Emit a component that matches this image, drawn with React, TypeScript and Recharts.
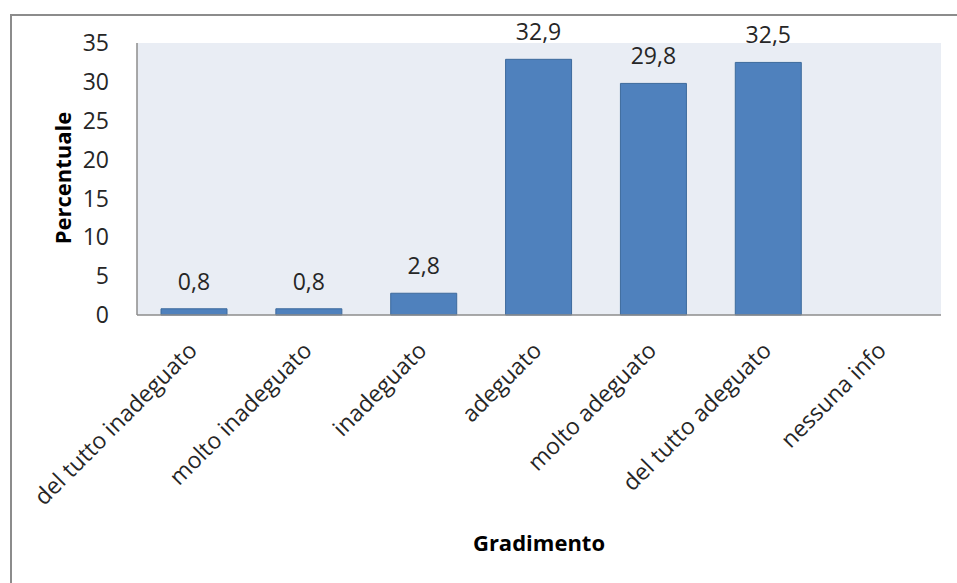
import { BarChart, Bar, XAxis, YAxis, CartesianGrid, LabelList, Label } from "recharts"

// ─── Data ────────────────────────────────────────────────────────────────────
const categories = [
  "del tutto inadeguato",
  "molto inadeguato",
  "inadeguato",
  "adeguato",
  "molto adeguato",
  "del tutto adeguato",
  "nessuna info",
]
const percentuale: (number | null)[] = [0.8, 0.8, 2.8, 32.9, 29.8, 32.5, null]
const yTicks = [0, 5, 10, 15, 20, 25, 30, 35]

const data = categories.map((name, i) => ({ name, value: percentuale[i] }))

const FONT = "'Open Sans', sans-serif"
const TEXT = "#262626"

function RotatedTick({ x, y, payload }: any) {
  return (
    <text
      x={x + 4}
      y={y + 29}
      transform={`rotate(-45 ${x + 4} ${y + 29})`}
      textAnchor="end"
      fill={TEXT}
      fontSize={23}
      fontFamily={FONT}
    >
      {payload.value}
    </text>
  )
}

export default function App() {
  return (
    <div style={{ position: "absolute", left: 0, top: 0, width: 957, height: 583, overflow: "hidden", background: "#fff" }}>
      {/* outer frame */}
      <div
        style={{
          position: "absolute",
          left: 10,
          top: 14,
          width: 980,
          height: 600,
          border: "2px solid #8c8c8c",
        }}
      />
      <div style={{ position: "absolute", left: 0, top: 0 }}>
        <BarChart
          width={957}
          height={583}
          data={data}
          margin={{ top: 43, right: 16, left: 77, bottom: 28 }}
          barSize={66}
        >
          <CartesianGrid horizontal={false} vertical={false} fill="#e9edf4" stroke="none" />
          <XAxis
            dataKey="name"
            interval={0}
            height={240}
            tick={<RotatedTick />}
            tickLine={false}
            axisLine={{ stroke: "#8c8c8c", strokeWidth: 1.5 }}
          >
            <Label
              value="Gradimento"
              position="insideBottom"
              offset={4}
              fill="#000"
              fontSize={22}
              fontWeight={700}
              fontFamily={FONT}
            />
          </XAxis>
          <YAxis
            width={60}
            domain={[0, 35]}
            ticks={yTicks}
            interval={0}
            tickLine={false}
            tickMargin={22}
            axisLine={{ stroke: "#8c8c8c", strokeWidth: 1.5 }}
            tick={{ fill: TEXT, fontSize: 23, fontFamily: FONT }}
          >
            <Label
              content={() => (
                <text
                  x={62}
                  y={178}
                  transform="rotate(-90 62 178)"
                  textAnchor="middle"
                  dominantBaseline="central"
                  fill="#000"
                  fontSize={22}
                  fontWeight={700}
                  fontFamily={FONT}
                >
                  Percentuale
                </text>
              )}
            />
          </YAxis>
          <Bar dataKey="value" fill="#4f81bd" stroke="#3d6a9c" strokeWidth={1} isAnimationActive={false}>
            <LabelList
              dataKey="value"
              position="top"
              offset={19}
              fill={TEXT}
              fontSize={23}
              fontFamily={FONT}
              formatter={(v: any) => (v == null ? "" : String(v).replace(".", ","))}
            />
          </Bar>
        </BarChart>
      </div>
    </div>
  )
}
